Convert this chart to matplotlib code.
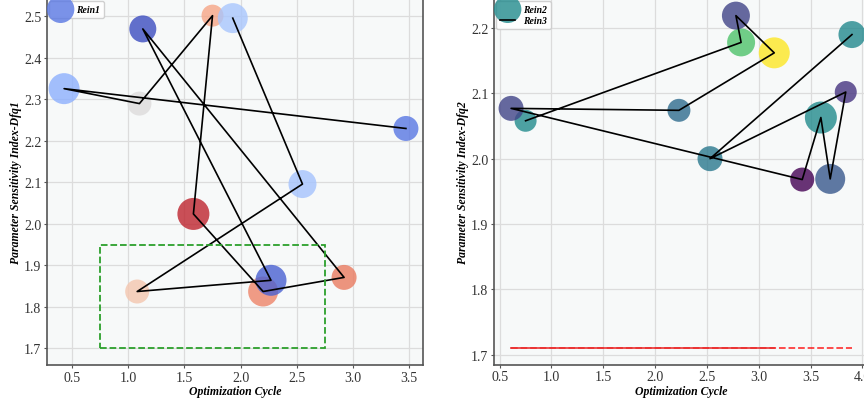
import numpy as np
import matplotlib
matplotlib.use("Agg")
import matplotlib.pyplot as plt
from matplotlib.patches import Rectangle

# --- dados ---
# painel esquerdo (Rein1), na ordem da linha
x_rein1 = [3.47, 0.43, 1.10, 1.75, 1.58, 2.20, 2.92, 1.13, 2.27, 1.08, 2.55, 1.93]
y_rein1 = [2.230, 2.326, 2.290, 2.502, 2.024, 1.837, 1.871, 2.470, 1.864, 1.837, 2.096, 2.496]
c_rein1 = [0.10, 0.25, 0.50, 0.72, 0.97, 0.80, 0.82, 0.00, 0.05, 0.62, 0.32, 0.33]
s_rein1 = [324, 498, 299, 251, 531, 466, 324, 378, 498, 299, 406, 466]

# painel direito (Rein2 / Rein3)
x_rein2 = [0.75, 2.83, 2.78, 3.15, 2.23, 0.61, 3.42, 3.60, 3.69, 3.84, 2.53, 3.90]
y_rein2 = [2.058, 2.178, 2.219, 2.162, 2.074, 2.077, 1.968, 2.063, 1.969, 2.102, 2.000, 2.190]
c_rein2 = [0.48, 0.72, 0.20, 1.00, 0.35, 0.20, 0.00, 0.48, 0.27, 0.15, 0.40, 0.47]
s_rein2 = [251, 406, 406, 498, 274, 324, 299, 531, 466, 251, 324, 378]

# linha de referência vermelha (y = 1.71)
ref_level = 1.71
ref_solid_end = 3.15

# retângulo tracejado verde (x0, x1, y0, y1)
box_x = [0.75, 2.75]
box_y = [1.70, 1.95]

XLABEL = "Optimization Cycle"
YLABELS = ["Parameter Sensitivity Index-Dfq1", "Parameter Sensitivity Index-Dfq2"]

plt.rcParams['font.family'] = ['Liberation Serif', 'DejaVu Serif']

BG = '#f7f9f9'
GRID = '#dcdcdc'
SPINE = '#555555'

fig = plt.figure(figsize=(8.64, 4.02), dpi=100)
ax1 = fig.add_axes([0.0544, 0.0896, 0.4352, 0.9104])
ax2 = fig.add_axes([0.5718, 0.0903, 0.4340, 0.9097])


def style_axes(ax, ylabel):
    ax.set_facecolor(BG)
    ax.grid(True, color=GRID, linewidth=0.9)
    ax.set_axisbelow(True)
    for sp in ax.spines.values():
        sp.set_color(SPINE)
        sp.set_linewidth(1.2)
    ax.tick_params(labelsize=10, length=2, color=SPINE, labelcolor='#333333', pad=2)
    ax.set_xlabel(XLABEL, fontsize=8.5, fontweight='bold', fontstyle='italic', labelpad=1)
    ax.set_ylabel(ylabel, fontsize=8.5, fontweight='bold', fontstyle='italic', labelpad=1.5)


def add_legend(ax):
    leg = ax.legend(loc='upper left', borderaxespad=0.2, handlelength=1.6,
                    handletextpad=0.8, labelspacing=0.25, framealpha=0.9,
                    prop={'weight': 'bold', 'style': 'italic', 'size': 7})
    leg.get_frame().set_edgecolor('#cccccc')
    return leg


# --- painel esquerdo ---
ax1.scatter(x_rein1, y_rein1, c=c_rein1, s=s_rein1, cmap='coolwarm', vmin=0, vmax=1,
            alpha=0.8, edgecolors='none', label='Rein1', zorder=2)
ax1.plot(x_rein1, y_rein1, color='black', lw=1.2, zorder=3)
ax1.add_patch(Rectangle((box_x[0], box_y[0]), box_x[1] - box_x[0], box_y[1] - box_y[0],
                        fill=False, edgecolor='#2ca02c', linestyle='--', lw=1.3, zorder=4))
style_axes(ax1, YLABELS[0])
ax1.set_xticks(np.arange(0.5, 3.6, 0.5))
add_legend(ax1)

# --- painel direito ---
ax2.scatter(x_rein2, y_rein2, c=c_rein2, s=s_rein2, cmap='viridis', vmin=0, vmax=1,
            alpha=0.8, edgecolors='none', label='Rein2', zorder=2)
ax2.plot(x_rein2, y_rein2, color='black', lw=1.2, label='Rein3', zorder=3)
ax2.plot([min(x_rein2), max(x_rein2)], [ref_level, ref_level], color='red', lw=1.3,
         linestyle='--', alpha=0.75, zorder=3)
ax2.plot([min(x_rein2), ref_solid_end], [ref_level, ref_level], color='#e83030', lw=1.3,
         alpha=0.9, zorder=3)
style_axes(ax2, YLABELS[1])
ax2.set_xticks(np.arange(0.5, 4.1, 0.5))
add_legend(ax2)

fig.savefig('out.png', dpi=100)
